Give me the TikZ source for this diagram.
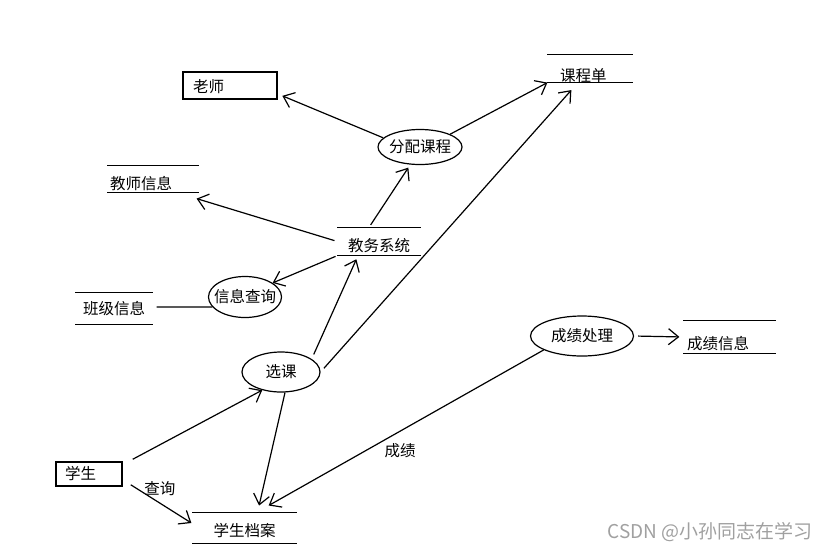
\documentclass[tikz,border=0pt]{standalone}
\usepackage{fontspec}
\newfontfamily\cjk{Noto Sans CJK SC}
\usepackage{xcolor}
\definecolor{wmgray}{HTML}{a0a0a0}
\usetikzlibrary{
  arrows.meta,
  positioning,
  shapes.geometric
}

\begin{document}
\begin{tikzpicture}[
  x=1pt, y=-1pt,
  every node/.style={font=\cjk\fontsize{15.5pt}{18pt}\selectfont},
  entity/.style={rectangle, draw, line width=1.5pt, align=left, inner ysep=0pt},
  store/.style={inner ysep=0pt, text height=22pt, text depth=5pt,
    append after command={(\tikzlastnode.north west) edge[-] (\tikzlastnode.north east)
      (\tikzlastnode.south west) edge[-] (\tikzlastnode.south east)}},
  proc/.style={ellipse, draw, inner xsep=-14pt, inner ysep=0pt},
  arr/.style={-{Straight Barb[length=10pt, width=16pt]}},
  line width=1.2pt,
]
\useasboundingbox (0,0) rectangle (829,552);

% Entities
\node[entity, text width=74pt, inner xsep=10pt, minimum height=27pt, text height=15pt, text depth=1pt] (teacher) at (230,85.5) {老师};
\node[entity, text width=48pt, inner xsep=9pt, minimum height=24pt] (student) at (89,474) {学生};

% Data stores
\node[store, text width=60pt, inner xsep=12pt, align=left, text height=26pt, text depth=1pt] (clist) at (590,68.5) {课程单};
\node[store, text width=86pt, inner xsep=2pt, align=left, text height=23pt, text depth=3pt] (tinfo) at (153,179) {教师信息};
\node[store, minimum width=82pt, text height=23pt, text depth=4pt] (esys) at (379,241.5) {教务系统};
\node[store, minimum width=76pt, text height=21pt, text depth=10pt] (cinfo) at (114,308.5) {班级信息};
\node[store, text width=85pt, inner xsep=3pt, align=left, text height=28pt, text depth=4pt] (ginfo) at (729.5,337) {成绩信息};
\node[store, minimum width=103pt, text height=23pt, text depth=7pt] (sfile) at (244.5,528) {学生档案};

% Processes
\node[proc, minimum width=84pt, minimum height=35pt] (assign) at (420,147) {分配课程};
\node[proc, minimum width=73pt, minimum height=41pt] (query) at (245,297) {信息查询};
\node[proc, minimum width=78pt, minimum height=40pt] (select) at (281,372) {选课};
\node[proc, minimum width=103pt, minimum height=40pt] (grade) at (582,336) {成绩处理};

% Flows
\draw[arr, shorten >=5pt] (assign.166) -- (teacher.-10);
\draw[arr] (assign.23) -- (clist.south west);
\draw[arr, shorten <=3pt, shorten >=3pt] ([xshift=-10pt]esys.north) -- ([xshift=-10pt]assign.south);
\draw[arr, shorten <=3pt] (esys.west) -- ([xshift=-2pt,yshift=-6pt]tinfo.south east);
\draw[arr, shorten <=2pt] (esys.south west) -- (query.27);
\draw ([xshift=4pt,yshift=1.5pt]cinfo.east) -- (query.-163);
\draw[arr, shorten <=5pt, shorten >=4pt] (select.23) -- ([xshift=-21pt]esys.south);
\draw[arr, shorten <=5pt, shorten >=10pt] (select.east) -- ([xshift=-12pt]clist.south);
\draw[arr] ([xshift=10pt,yshift=2pt]student.north east) -- (select.224);
\draw[arr] ([xshift=8pt,yshift=2pt]student.south east) -- node[pos=0.48, above=3pt] (lquery) {查询} ([xshift=-1pt,yshift=5pt]sfile.west);
\draw[arr, shorten >=7pt] ([xshift=4pt]select.south) -- ([xshift=13pt]sfile.north);
\draw[arr, shorten >=14pt] (grade.200) -- node[pos=0.5, below=8pt] (lgrade) {成绩} ([xshift=12pt]sfile.north);
\draw[arr, shorten <=4pt, shorten >=4pt] (grade.east) -- (ginfo.west);

% Watermark
\node[text=wmgray, font=\cjk\fontsize{19pt}{21pt}\selectfont] (mark) at (710,532) {CSDN @小孙同志在学习};

\end{tikzpicture}
\end{document}
